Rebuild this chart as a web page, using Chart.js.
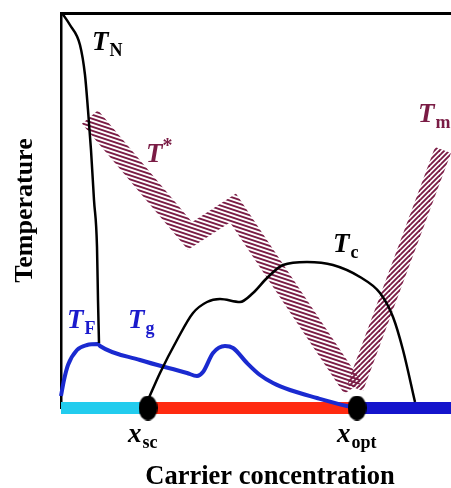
<!DOCTYPE html>
<html>
<head>
<meta charset="utf-8">
<script src="https://cdn.jsdelivr.net/npm/chart.js@4.4.1/dist/chart.umd.min.js"></script>
<style>
  html, body { margin: 0; padding: 0; overflow: hidden; background: #fff; }
  #wrap { width: 451px; height: 488px; position: relative; }
</style>
</head>
<body>
<div id="wrap"><canvas id="phase"></canvas></div>
<script>
// schematic phase diagram, arbitrary units (no ticks in the original)
const tnX = [1, 9, 19, 24, 27, 30, 33, 36, 37, 38];
const tnY = [395, 383, 363, 333, 298, 258, 208, 161, 108, 65];

const tgX = [0, 3, 7, 16, 26, 37, 39, 79, 126, 136, 142, 152, 164, 172, 186, 199, 212, 229, 256, 286, 296];
const tgY = [12, 28, 43, 58, 63, 64, 62, 48, 35, 32, 36, 55, 62, 60, 45, 33, 25, 18, 10, 2, 0];

const tcX = [87, 99, 116, 132, 146, 159, 179, 192, 206, 222, 246, 272, 299, 319, 332, 342, 354];
const tcY = [8, 35, 68, 95, 106, 109, 106, 115, 130, 143, 146, 143, 131, 115, 91, 58, 6];

const tstarX = [29, 129, 172, 292];
const tstarY = [291, 172, 200, 20];

const tmX = [294, 382];
const tmY = [20, 258];

// regions along the concentration axis
const regionEdges = [0, 87, 296, 390];
const markerX = [87, 296]; // x_sc, x_opt

const maroon = "#7a1c45";

const pts = (xs, ys) => xs.map((x, i) => ({ x: x, y: ys[i] }));

// striped fill for the hatched crossover bands
function hatch(a, b, step, size, lw, color) {
    const c = document.createElement("canvas");
    c.width = size; c.height = size;
    const g = c.getContext("2d");
    g.strokeStyle = color;
    g.lineWidth = lw;
    const big = size * 10;
    for (let k = -big; k <= big; k += step) {
        // line b*x - a*y = k
        const x0 = k / b;
        g.beginPath();
        g.moveTo(x0 - a * big, -b * big);
        g.lineTo(x0 + a * big, b * big);
        g.stroke();
    }
    return g.createPattern(c, "repeat");
}

function ellipseDot() {
    const c = document.createElement("canvas");
    c.width = 19; c.height = 25;
    const g = c.getContext("2d");
    g.fillStyle = "#000";
    g.beginPath();
    g.ellipse(9.5, 12.5, 9.5, 12.5, 0, 0, Math.PI * 2);
    g.fill();
    return c;
}

const starHatch = hatch(3, 1, 12, 12, 1.9, maroon);  // shallow downward stripes
const mHatch = hatch(1, -1, 5, 10, 1.9, maroon);     // upward diagonal

const curveLabels = [
    { main: "T", sub: "N", x: 31, y: 358, color: "#000" },
    { main: "T", sup: "*", x: 85, y: 246, color: maroon },
    { main: "T", sub: "m", x: 357, y: 286, color: maroon },
    { main: "T", sub: "c", x: 272, y: 156, color: "#000" },
    { main: "T", sub: "F", x: 6, y: 80, color: "#1a1acc" },
    { main: "T", sub: "g", x: 67, y: 80, color: "#1a1acc" },
    { main: "x", sub: "sc", x: 67, y: -34, color: "#000" },
    { main: "x", sub: "opt", x: 276, y: -34, color: "#000" }
];

const labelPlugin = {
    id: "curveLabels",
    afterDraw(chart) {
        const ctx = chart.ctx;
        const xs = chart.scales.x, ys = chart.scales.y;
        ctx.save();
        ctx.textBaseline = "alphabetic";
        ctx.textAlign = "left";
        curveLabels.forEach(l => {
            const px = xs.getPixelForValue(l.x);
            const py = ys.getPixelForValue(l.y);
            ctx.fillStyle = l.color;
            ctx.font = 'italic bold 27px "Liberation Serif"';
            ctx.fillText(l.main, px, py);
            const w = ctx.measureText(l.main).width;
            if (l.sub) {
                ctx.font = 'bold 18px "Liberation Serif"';
                ctx.fillText(l.sub, px + w + 1, py + 6);
            }
            if (l.sup) {
                ctx.font = 'bold 20px "Liberation Serif"';
                ctx.fillText(l.sup, px + w, py - 10);
            }
        });
        // x axis caption sits a bit right of the plot centre in the original
        ctx.fillStyle = "#000";
        ctx.textAlign = "center";
        ctx.font = 'bold 26.5px "Liberation Serif"';
        ctx.fillText("Carrier concentration", xs.getPixelForValue(209), chart.height - 4);
        ctx.restore();
    }
};

const segments = [
    { c: "#22ccee" },
    { c: "#ff2a10" },
    { c: "#1414cc" }
].map((s, i) => ({
    data: [{ x: regionEdges[i], y: 0 }, { x: regionEdges[i + 1], y: 0 }],
    showLine: true,
    borderColor: s.c,
    borderWidth: 12,
    borderCapStyle: "butt",
    pointRadius: 0,
    clip: false,
    order: 9
}));

const ctx = document.getElementById("phase").getContext("2d");
new Chart(ctx, {
    type: "scatter",
    data: {
        datasets: [
            ...segments,
            {
                data: pts(tgX, tgY),
                showLine: true,
                borderColor: "#1a2ad0",
                borderWidth: 4,
                cubicInterpolationMode: "monotone",
                pointRadius: 0,
                clip: false,
                order: 6
            },
            {
                data: pts(tstarX, tstarY),
                showLine: true,
                borderColor: starHatch,
                borderWidth: 21,
                borderJoinStyle: "miter",
                borderCapStyle: "butt",
                pointRadius: 0,
                order: 5
            },
            {
                data: pts(tmX, tmY),
                showLine: true,
                borderColor: mHatch,
                borderWidth: 17,
                borderCapStyle: "butt",
                pointRadius: 0,
                order: 5
            },
            {
                data: pts(tnX, tnY),
                showLine: true,
                borderColor: "#000",
                borderWidth: 2.5,
                cubicInterpolationMode: "monotone",
                pointRadius: 0,
                order: 3
            },
            {
                data: pts(tcX, tcY),
                showLine: true,
                borderColor: "#000",
                borderWidth: 2.5,
                cubicInterpolationMode: "monotone",
                pointRadius: 0,
                order: 3
            },
            {
                data: markerX.map(x => ({ x: x, y: 0 })),
                showLine: false,
                pointStyle: ellipseDot(),
                pointRadius: 10,
                clip: false,
                order: 1
            }
        ]
    },
    options: {
        responsive: true,
        maintainAspectRatio: false,
        animation: false,
        events: [],
        layout: { padding: 0, autoPadding: false },
        plugins: { legend: { display: false }, tooltip: { enabled: false } },
        scales: {
            x: {
                type: "linear",
                min: 0, max: 390,
                grid: { display: false },
                border: { display: false },
                ticks: { display: false },
                afterFit: s => { s.height = 80; }
            },
            xTop: {
                type: "linear",
                position: "top",
                min: 0, max: 390,
                grid: { display: false },
                border: { display: true, color: "#000", width: 3 },
                ticks: { display: false },
                afterFit: s => { s.height = 13; }
            },
            y: {
                min: 0, max: 395,
                grid: { display: false },
                border: { display: true, color: "#000", width: 2.5 },
                ticks: { display: false },
                title: {
                    display: true,
                    text: "Temperature",
                    color: "#000",
                    font: { family: "Liberation Serif", weight: "bold", size: 26 },
                    padding: { top: 10, bottom: 0 }
                },
                afterFit: s => { s.width = 61; }
            }
        }
    },
    plugins: [labelPlugin]
});
</script>
</body>
</html>
